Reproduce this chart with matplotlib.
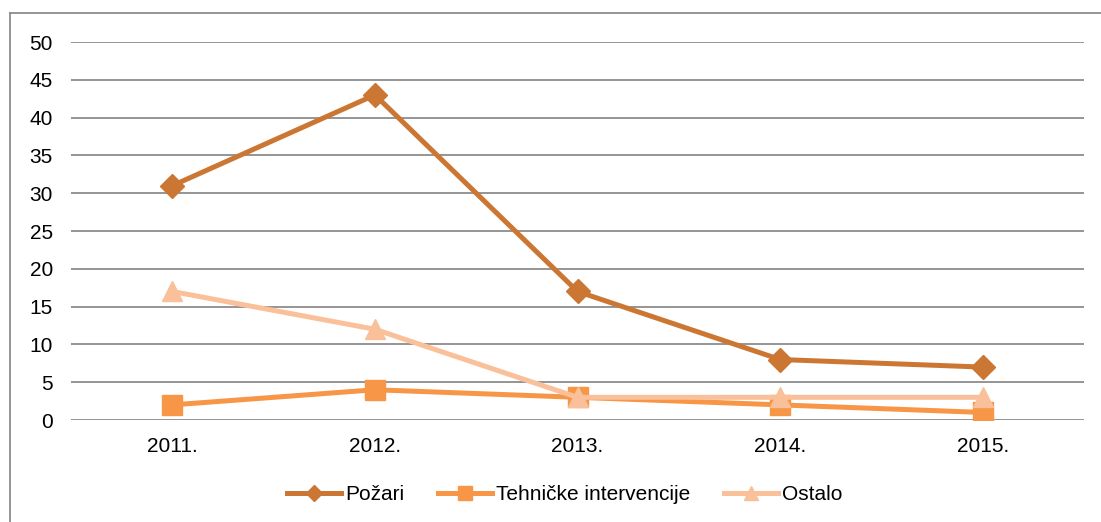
import matplotlib
matplotlib.use("Agg")
import matplotlib.pyplot as plt
from matplotlib.lines import Line2D

plt.rcParams['font.family'] = ['Liberation Sans', 'DejaVu Sans']

categories = ["2011.", "2012.", "2013.", "2014.", "2015."]
pozari = [31, 43, 17, 8, 7]
tehnicke = [2, 4, 3, 2, 1]
ostalo = [17, 12, 3, 3, 3]
yticks = [0, 5, 10, 15, 20, 25, 30, 35, 40, 45, 50]

fig = plt.figure(figsize=(11.01, 5.22), dpi=100)
ax = fig.add_axes([0.0645, 0.1954, 0.9201, 0.7241])

x = list(range(len(categories)))
ax.plot(x, pozari, color='#CB7733', lw=3.6, marker='D', ms=12, label='Požari', zorder=3)
ax.plot(x, tehnicke, color='#F79646', lw=3.6, marker='s', ms=14, label='Tehničke intervencije', zorder=3)
ax.plot(x, ostalo, color='#F9C09A', lw=3.6, marker='^', ms=14, label='Ostalo', zorder=4)

ax.set_xlim(-0.5, len(categories) - 0.5)
ax.set_ylim(0, 50)
ax.set_yticks(yticks)
ax.set_xticks(x)
ax.set_xticklabels(categories)
ax.tick_params(axis='both', length=0, labelsize=15, colors='black')
ax.tick_params(axis='y', pad=13)
ax.tick_params(axis='x', pad=12)
ax.yaxis.grid(True, color='#8C8C8C', lw=1.3)
ax.set_axisbelow(True)
for s in ax.spines.values():
    s.set_visible(False)

leg = fig.legend(loc='center', bbox_to_anchor=(0.513, 0.052), ncol=3, frameon=False,
                 fontsize=15, handlelength=2.6, handletextpad=0.2, columnspacing=1.6,
                 markerscale=0.7)

# outer border (left and top visible)
fig.add_artist(Line2D([10/1101, 10/1101], [0, 1 - 13/522], transform=fig.transFigure, color='#8C8C8C', lw=1.3))
fig.add_artist(Line2D([10/1101, 1], [1 - 13/522, 1 - 13/522], transform=fig.transFigure, color='#8C8C8C', lw=1.3))

fig.savefig('out.png', dpi=100)
